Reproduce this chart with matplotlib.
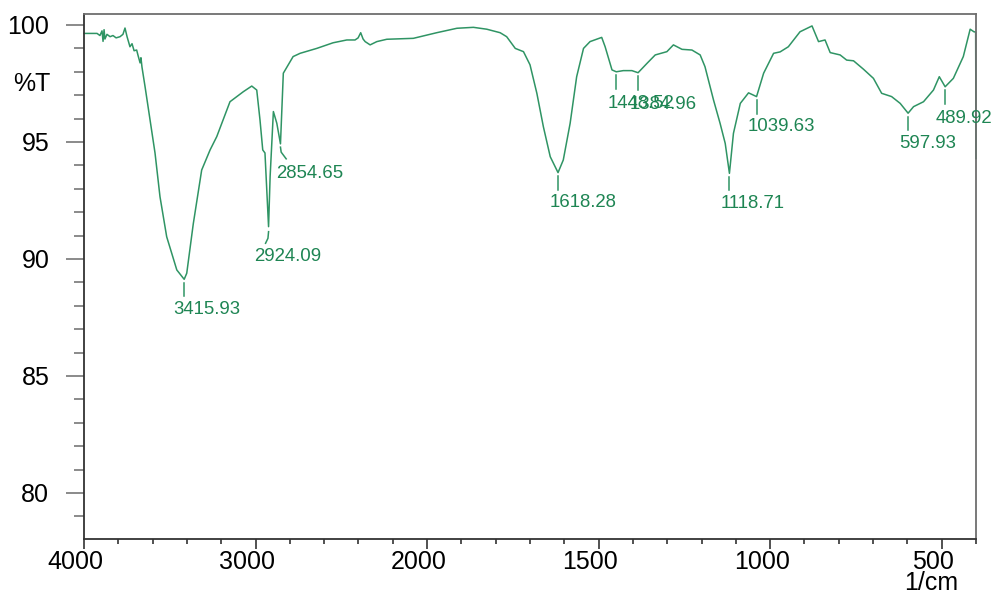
import numpy as np
import matplotlib
matplotlib.use("Agg")
import matplotlib.pyplot as plt
from matplotlib.transforms import ScaledTranslation, offset_copy

# FTIR spectrum (wavenumber in 1/cm, transmittance in %T)
wavenumber = [4000, 3924, 3907, 3895, 3889, 3883, 3878, 3866, 3848, 3831, 3813, 3790,
              3773, 3761, 3749, 3732, 3720, 3708, 3693, 3685, 3673, 3668, 3662, 3644,
              3615, 3586, 3557, 3518, 3459, 3415.93, 3401, 3363, 3314, 3265, 3226, 3149,
              3071, 3022, 2993, 2974, 2958, 2945, 2924.09, 2915, 2896, 2876, 2854.65, 2838,
              2781, 2740, 2643, 2548, 2468, 2420, 2402, 2387, 2373, 2361, 2332, 2293,
              2235, 2080, 1972, 1913, 1865, 1826, 1787, 1768, 1743, 1719, 1700, 1680,
              1661, 1641, 1618.28, 1603, 1583, 1564, 1544, 1525, 1491, 1481, 1461, 1448.52,
              1428, 1403, 1384.96, 1359, 1335, 1301, 1282, 1257, 1228, 1204, 1190, 1165,
              1146, 1131, 1118.71, 1107, 1087, 1063, 1039.63, 1019, 990, 971, 947, 913,
              878, 859, 840, 825, 796, 777, 757, 728, 699, 675, 646, 621,
              597.93, 582, 553, 524, 507, 489.92, 466, 437, 417, 406, 401, 400]
transmittance = [99.64, 99.64, 99.55, 99.75, 99.3, 99.8, 99.4, 99.6, 99.5, 99.55, 99.45, 99.5,
                 99.6, 99.87, 99.5, 99.07, 99.2, 98.9, 98.93, 98.7, 98.38, 98.6, 98.2, 97.36,
                 95.94, 94.53, 92.66, 90.95, 89.53, 89.13, 89.39, 91.5, 93.8, 94.66, 95.23, 96.72,
                 97.15, 97.39, 97.22, 95.94, 94.66, 94.53, 91.38, 93.52, 96.3, 95.8, 94.92, 97.94,
                 98.65, 98.79, 99.0, 99.24, 99.36, 99.36, 99.45, 99.67, 99.4, 99.29, 99.15, 99.29,
                 99.39, 99.43, 99.67, 99.86, 99.9, 99.82, 99.67, 99.5, 99.0, 98.86, 98.3, 97.08,
                 95.65, 94.37, 93.69, 94.23, 95.8, 97.79, 99.0, 99.29, 99.47, 99.07, 98.08, 98.0,
                 98.05, 98.05, 97.96, 98.36, 98.72, 98.86, 99.15, 98.96, 98.93, 98.72, 98.22, 96.79,
                 95.8, 94.94, 93.66, 95.37, 96.65, 97.1, 96.94, 97.94, 98.79, 98.85, 99.07, 99.71,
                 99.96, 99.29, 99.36, 98.82, 98.72, 98.5, 98.47, 98.11, 97.72, 97.08, 96.94, 96.65,
                 96.23, 96.51, 96.72, 97.22, 97.79, 97.36, 97.72, 98.65, 99.82, 99.71, 99.7, 94.3]

# labelled peaks
peak_wn = [3415.93, 2924.09, 2854.65, 1618.28, 1448.52, 1384.96, 1118.71, 1039.63, 597.93, 489.92]
peak_t = [89.13, 91.38, 94.92, 93.69, 98.0, 97.96, 93.66, 96.94, 96.23, 97.36]

x_major = [4000, 3000, 2000, 1500, 1000, 500]
x_minor = list(range(4000, 2000, -200)) + list(range(2000, 399, -100))
y_major = [80, 85, 90, 95, 100]
y_minor = list(range(79, 101))

LINE = "#2f9464"
TEXT = "#1e8553"

# leader-line / label placement in pixels relative to the peak (dx, dy down)
leaders = {
    2924.09: [(0, 5), (-0.6, 11.6), (-3, 16.6)],
    2854.65: [(0, 3.3), (0.7, 8.3), (5.7, 15)],
}
label_dx = {3415.93: -11, 2924.09: -14, 2854.65: -4, 489.92: -10}
label_dy = {1448.52: 23, 1384.96: 23, 489.92: 23}


# 4000-2000 is drawn at half the scale of 2000-400
def fwd(x):
    x = np.asarray(x, dtype=float)
    return np.where(x > 2000, 2000 + (x - 2000) / 2, x)


def inv(u):
    u = np.asarray(u, dtype=float)
    return np.where(u > 2000, 2000 + (u - 2000) * 2, u)


plt.rcParams["font.family"] = ["Liberation Sans", "DejaVu Sans"]

fig = plt.figure(figsize=(9.92, 5.95), dpi=100)
ax = fig.add_axes([84 / 992, 1 - 539 / 595, 892 / 992, 525 / 595])
ax.set_xscale("function", functions=(fwd, inv))
ax.set_xlim(4000, 400)
ax.set_ylim(78.03, 100.47)

ax.plot(wavenumber, transmittance, color=LINE, lw=1.1, clip_on=False)

for wn, t in zip(peak_wn, peak_t):
    pts = leaders.get(wn, [(0, 3.5), (0, 17)])
    xs, ys = [], []
    for dx, dy in pts:
        tr = offset_copy(ax.transData, fig=fig, x=dx, y=-dy, units="dots")
        px, py = tr.transform((wn, t))
        xs.append(px)
        ys.append(py)
    ax.plot(xs, ys, color=LINE, lw=1.1, transform=None, clip_on=False)
    tr = offset_copy(ax.transData, fig=fig, x=label_dx.get(wn, -8.5),
                     y=-label_dy.get(wn, 21.5), units="dots")
    ax.text(wn, t, f"{wn:.2f}", transform=tr, ha="left", va="top",
            fontsize=13.4, color=TEXT, clip_on=False)

ax.set_xticks(x_major)
ax.set_xticks(x_minor, minor=True)
ax.set_xticklabels([str(v) for v in x_major])
ax.set_yticks(y_major)
ax.set_yticks(y_minor, minor=True)
ax.set_yticklabels([str(v) for v in y_major])

ax.tick_params(axis="x", which="major", direction="out", length=7, width=1.2,
               color="#333333", labelsize=18, pad=1)
ax.tick_params(axis="x", which="minor", direction="out", length=3.5, width=1.2,
               color="#333333")
ax.tick_params(axis="y", which="major", direction="out", length=13, width=1.2,
               color="#777777", labelsize=18, pad=12)
ax.tick_params(axis="y", which="minor", direction="out", length=7, width=1.2,
               color="#777777")

# tick labels sit a little to the left of their ticks
shift = ScaledTranslation(-8.5 / 100, 0, fig.dpi_scale_trans)
for lab in ax.get_xticklabels():
    lab.set_transform(lab.get_transform() + shift)

for side in ["left", "bottom"]:
    ax.spines[side].set_color("#333333")
    ax.spines[side].set_linewidth(1.3)
for side in ["top", "right"]:
    ax.spines[side].set_color("#6e6e6e")
    ax.spines[side].set_linewidth(1.3)

fig.text(31.7 / 992, 1 - 84 / 595, "%T", fontsize=18, ha="center", va="center")
fig.text(931 / 992, 1 - 583.5 / 595, "1/cm", fontsize=18, ha="center", va="center")

fig.savefig("out.png", dpi=100)
